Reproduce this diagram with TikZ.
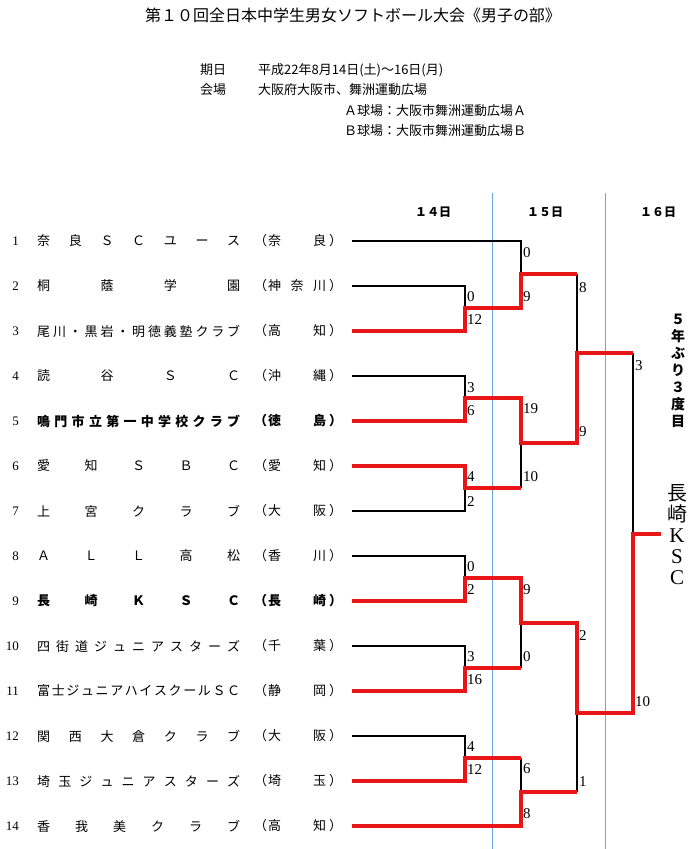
\documentclass[tikz,border=0pt]{standalone}
\usepackage{fontspec}
\usepackage{tikz}
\newfontfamily\jp{Noto Sans CJK JP}
\newfontfamily\digits{Liberation Serif}
\definecolor{bracketred}{RGB}{232,22,22}
\definecolor{dayblue}{RGB}{105,165,225}

% spread the characters of a word over its box
\def\spr#1{\sprA#1\sprend}
\def\sprA#1#2\sprend{#1\ifx\relax#2\relax\else\hfill\sprA#2\sprend\fi}

% one line of the list: y, number, font, team, prefecture
\newcommand\teamrow[5]{%
  \node[num] (n#2) at (19,#1) {#2};
  \node[team] (t#2) at (37,#1) {#3\makebox[203pt][s]{\spr{#4}}};
  \node[team] (p#2) at (254,#1) {#3（\hspace{1pt}\makebox[58pt][s]{\spr{#5}}\hspace{3pt}）};
}

\begin{document}
\begin{tikzpicture}[x=1pt,y=-1pt,
    lose/.style={line width=1.4pt,black},
    win/.style={line width=4pt,bracketred},
    day/.style={line width=0.9pt,dayblue},
    num/.style={anchor=east,inner sep=0,font=\digits\fontsize{13}{13}\selectfont},
    team/.style={anchor=west,inner sep=0,font=\jp\fontsize{13}{13}\selectfont},
    info/.style={anchor=west,inner sep=0,font=\jp\fontsize{13}{13}\selectfont},
    score/.style={anchor=west,inner sep=0,font=\digits\fontsize{15}{15}\selectfont}]
    \fill[white] (0,0) rectangle (700,849);
    \useasboundingbox (0,0) rectangle (700,849);

    \node[font=\jp\fontsize{16}{16}\selectfont] (title) at (353,15) {第１０回全日本中学生男女ソフトボール大会《男子の部》};
    \node[info] (kijitsu) at (200,70) {期日};
    \node[info] (date) at (258,70) {平成22年8月14日(土)～16日(月)};
    \node[info] (kaijo) at (200,90) {会場};
    \node[info] (place) at (258,90) {大阪府大阪市、舞洲運動広場};
    \node[info] (fieldA) at (344,111) {Ａ球場：大阪市舞洲運動広場Ａ};
    \node[info] (fieldB) at (344,131) {Ｂ球場：大阪市舞洲運動広場Ｂ};

    % days
    \draw[day] (492.5,193)--(492.5,849);
    \draw[day] (605,193)--(605,849);
    \node[font=\jp\bfseries\fontsize{12}{12}\selectfont] (d14) at (433,212) {\makebox[36pt][s]{\spr{１４日}}};
    \node[font=\jp\bfseries\fontsize{12}{12}\selectfont] (d15) at (545,212) {\makebox[36pt][s]{\spr{１５日}}};
    \node[font=\jp\bfseries\fontsize{12}{12}\selectfont] (d16) at (658,212) {\makebox[36pt][s]{\spr{１６日}}};

    \teamrow{241}{1}{}{奈良ＳＣユース}{奈良}
    \teamrow{286}{2}{}{桐蔭学園}{神奈川}
    \teamrow{331}{3}{}{尾川・黒岩・明徳義塾クラブ}{高知}
    \teamrow{376}{4}{}{読谷ＳＣ}{沖縄}
    \teamrow{421}{5}{\bfseries}{鳴門市立第一中学校クラブ}{徳島}
    \teamrow{466}{6}{}{愛知ＳＢＣ}{愛知}
    \teamrow{511}{7}{}{上宮クラブ}{大阪}
    \teamrow{556}{8}{}{ＡＬＬ高松}{香川}
    \teamrow{601}{9}{\bfseries}{長崎ＫＳＣ}{長崎}
    \teamrow{646}{10}{}{四街道ジュニアスターズ}{千葉}
    \teamrow{691}{11}{}{富士ジュニアハイスクールＳＣ}{静岡}
    \teamrow{736}{12}{}{関西大倉クラブ}{大阪}
    \teamrow{781}{13}{}{埼玉ジュニアスターズ}{埼玉}
    \teamrow{826}{14}{}{香我美クラブ}{高知}

    % losers
    \draw[lose](352,241)--(521,241)--(521,274);
    \draw[lose](352,286)--(465,286)--(465,308);
    \draw[lose](352,376)--(465,376)--(465,398);
    \draw[lose](352,511)--(465,511)--(465,488);
    \draw[lose](352,556)--(465,556)--(465,578);
    \draw[lose](352,646)--(465,646)--(465,668);
    \draw[lose](352,736)--(465,736)--(465,758);
    \draw[lose](521,488)--(521,443);
    \draw[lose](521,668)--(521,623);
    \draw[lose](521,758)--(521,792);
    \draw[lose](577,274)--(577,353);
    \draw[lose](577,792)--(577,713);
    \draw[lose](633,353)--(633,534);

    % winners
    \draw[win](352,331)--(465,331)--(465,308)--(521,308)--(521,274)--(577,274);
    \draw[win](352,421)--(465,421)--(465,398)--(521,398)--(521,443)--(577,443)--(577,353)--(633,353);
    \draw[win](352,466)--(465,466)--(465,488)--(521,488);
    \draw[win](352,601)--(465,601)--(465,578)--(521,578)--(521,623)--(577,623)--(577,713)--(633,713)--(633,534)--(661,534);
    \draw[win](352,691)--(465,691)--(465,668)--(521,668);
    \draw[win](352,781)--(465,781)--(465,758)--(521,758);
    \draw[win](352,826)--(521,826)--(521,792)--(577,792);

    % scores
    \foreach \y/\s [count=\i] in {297/0,320/12,388/3,411/6,477/4,502/2,567/0,590/2,657/3,680/16,747/4,770/12}
        \node[score] (a\i) at (467,\y) {\s};
    \foreach \y/\s [count=\i] in {253/0,297/9,409/19,477/10,590/9,657/0,769/6,814/8}
        \node[score] (b\i) at (523,\y) {\s};
    \foreach \y/\s [count=\i] in {288/8,432/9,636/2,782/1}
        \node[score] (c\i) at (579,\y) {\s};
    \node[score] (f1) at (635,366) {3};
    \node[score] (f2) at (635,702) {10};

    \node[align=center,inner sep=0,font=\jp\bfseries\fontsize{14}{17}\selectfont] (again) at (678,371) {５\\年\\ぶ\\り\\３\\度\\目};
    \node[align=center,inner sep=0,font=\digits\fontsize{21}{21}\selectfont] (champ) at (677,535) {{\jp\fontsize{20}{21}\selectfont 長}\\{\jp\fontsize{20}{21}\selectfont 崎}\\K\\S\\C};
\end{tikzpicture}
\end{document}
